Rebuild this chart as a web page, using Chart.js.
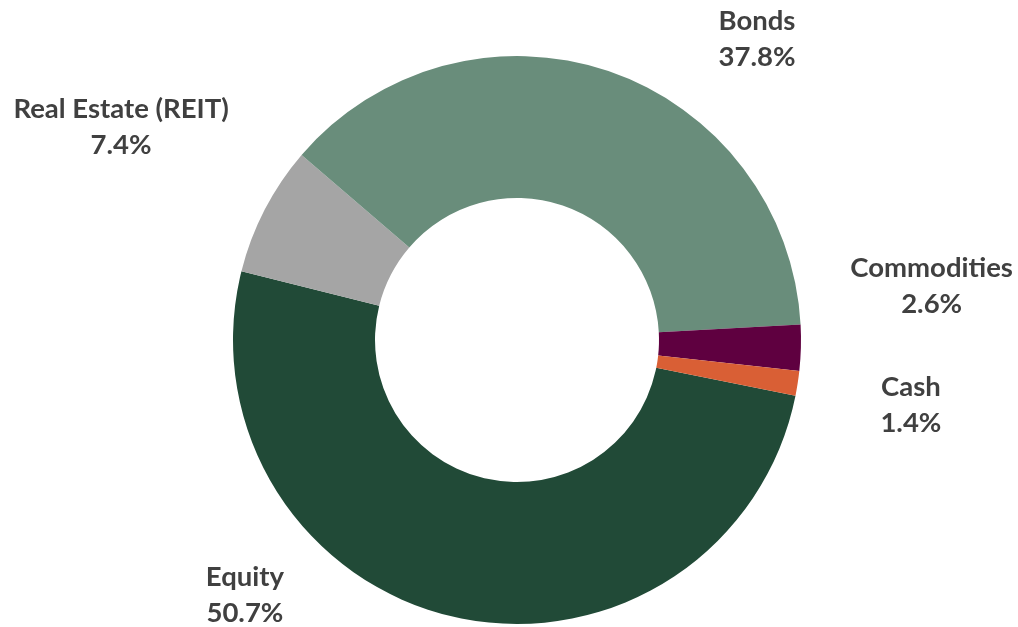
<!DOCTYPE html>
<html>
<head>
<meta charset="utf-8">
<script src="https://cdn.jsdelivr.net/npm/chart.js@4/dist/chart.umd.min.js"></script>
<style>
  html, body { margin: 0; padding: 0; background: #fff; }
  #wrap { width: 1018px; height: 627px; }
</style>
</head>
<body>
<div id="wrap"><canvas id="donut" width="1018" height="627"></canvas></div>
<script>
// Asset allocation (clockwise from the Equity slice)
const categories = ["Equity", "Real Estate (REIT)", "Bonds", "Commodities", "Cash"];
const shares = [50.7, 7.4, 37.8, 2.6, 1.4];
const colours = ["#214a37", "#a5a5a5", "#698d7b", "#5f0040", "#d95f35"];

// where each label sits, relative to the ring centre, in units of the outer radius
const labelSpots = [
  { dx: -0.958, dy: 0.90 },   // Equity
  { dx: -1.394, dy: -0.75 },  // Real Estate
  { dx: 0.845, dy: -1.058 },  // Bonds
  { dx: 1.46, dy: -0.19 },    // Commodities
  { dx: 1.387, dy: 0.229 }    // Cash
];

const sliceLabels = {
  id: "sliceLabels",
  afterDatasetsDraw(chart) {
    const ctx = chart.ctx;
    const arc = chart.getDatasetMeta(0).data[0];
    const cx = arc.x, cy = arc.y, r = arc.outerRadius;
    ctx.save();
    ctx.font = "bold 27.5px Lato";
    ctx.fillStyle = "#404040";
    ctx.textAlign = "center";
    ctx.textBaseline = "middle";
    categories.forEach((name, i) => {
      const x = cx + labelSpots[i].dx * r;
      const y = cy + labelSpots[i].dy * r;
      ctx.fillText(name, x, y - 18);
      ctx.fillText(shares[i].toFixed(1) + "%", x, y + 18);
    });
    ctx.restore();
  }
};

const ctx = document.querySelector("#donut").getContext("2d");
new Chart(ctx, {
  type: "doughnut",
  data: {
    labels: categories,
    datasets: [{
      data: shares,
      backgroundColor: colours,
      borderWidth: 0
    }]
  },
  options: {
    responsive: false,
    animation: false,
    rotation: 101.3,
    cutout: "50%",
    layout: { padding: { top: 56, bottom: 3, left: 16, right: 0 } },
    plugins: {
      legend: { display: false },
      tooltip: { enabled: false }
    }
  },
  plugins: [sliceLabels]
});
</script>
</body>
</html>
